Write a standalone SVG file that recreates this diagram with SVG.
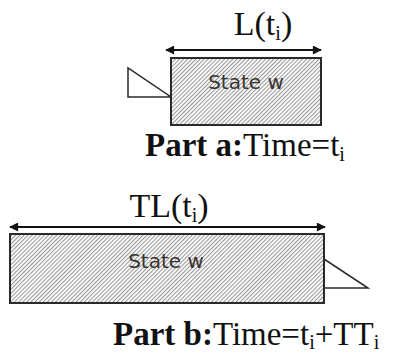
<svg xmlns="http://www.w3.org/2000/svg" width="393" height="352" viewBox="0 0 393 352">
<style>
.box{stroke:#2a2a2a;stroke-width:2;fill:url(#hatch)}
.tri{fill:#fff;stroke:#2a2a2a;stroke-width:1.5;stroke-linejoin:miter}
.state{font-family:"DejaVu Sans",sans-serif;font-size:20px;fill:#3a3530}
.lbl{font-family:"Liberation Serif",serif;font-size:34px;fill:#111}
.cap{font-family:"Liberation Serif",serif;font-size:33px;fill:#111}
.b{font-weight:bold}
.sub{font-size:20px}
.arr{stroke:#111;stroke-width:2;fill:none;marker-start:url(#ah);marker-end:url(#ah)}
</style>
<defs>
<pattern id="hatch" patternUnits="userSpaceOnUse" width="6" height="2.9" patternTransform="rotate(-45)">
<rect x="0" y="0" width="6" height="2.9" fill="#fff"/>
<rect x="0" y="0" width="6" height="1.1" fill="#999"/>
</pattern>
<marker id="ah" viewBox="0 0 10 10" refX="9" refY="5" markerWidth="10" markerHeight="9" markerUnits="userSpaceOnUse" orient="auto-start-reverse">
<path d="M0,0 L10,5 L0,10 z" fill="#111"/>
</marker>
</defs>
<g id="connectors">
<line class="arr" x1="166" y1="50" x2="321" y2="50"/>
<line class="arr" x1="10" y1="227" x2="325" y2="227"/>
</g>
<g id="label-L">
<text class="lbl" x="263" y="35" text-anchor="middle">L(t<tspan class="sub" dy="5">i</tspan><tspan dy="-5">)</tspan></text>
</g>
<g id="state-a">
<polygon class="tri" points="128,68 128,97 171,97"/>
<rect class="box" x="171" y="58" width="150" height="67"/>
<text class="state" x="246" y="89" text-anchor="middle">State w</text>
</g>
<g id="caption-a">
<text class="cap" x="145" y="156"><tspan class="b">Part a:</tspan>Time=t<tspan class="sub" dy="5">i</tspan></text>
</g>
<g id="label-TL">
<text class="lbl" x="169" y="217" text-anchor="middle">TL(t<tspan class="sub" dy="5">i</tspan><tspan dy="-5">)</tspan></text>
</g>
<g id="state-b">
<polygon class="tri" points="324,259 324,288 368,288"/>
<rect class="box" x="10" y="234" width="314" height="69"/>
<text class="state" x="166" y="268" text-anchor="middle">State w</text>
</g>
<g id="caption-b">
<text class="cap" x="113" y="345"><tspan class="b">Part b:</tspan>Time=t<tspan class="sub" dy="4">i</tspan><tspan dy="-4">+TT</tspan><tspan class="sub" dy="4">i</tspan></text>
</g>
</svg>
